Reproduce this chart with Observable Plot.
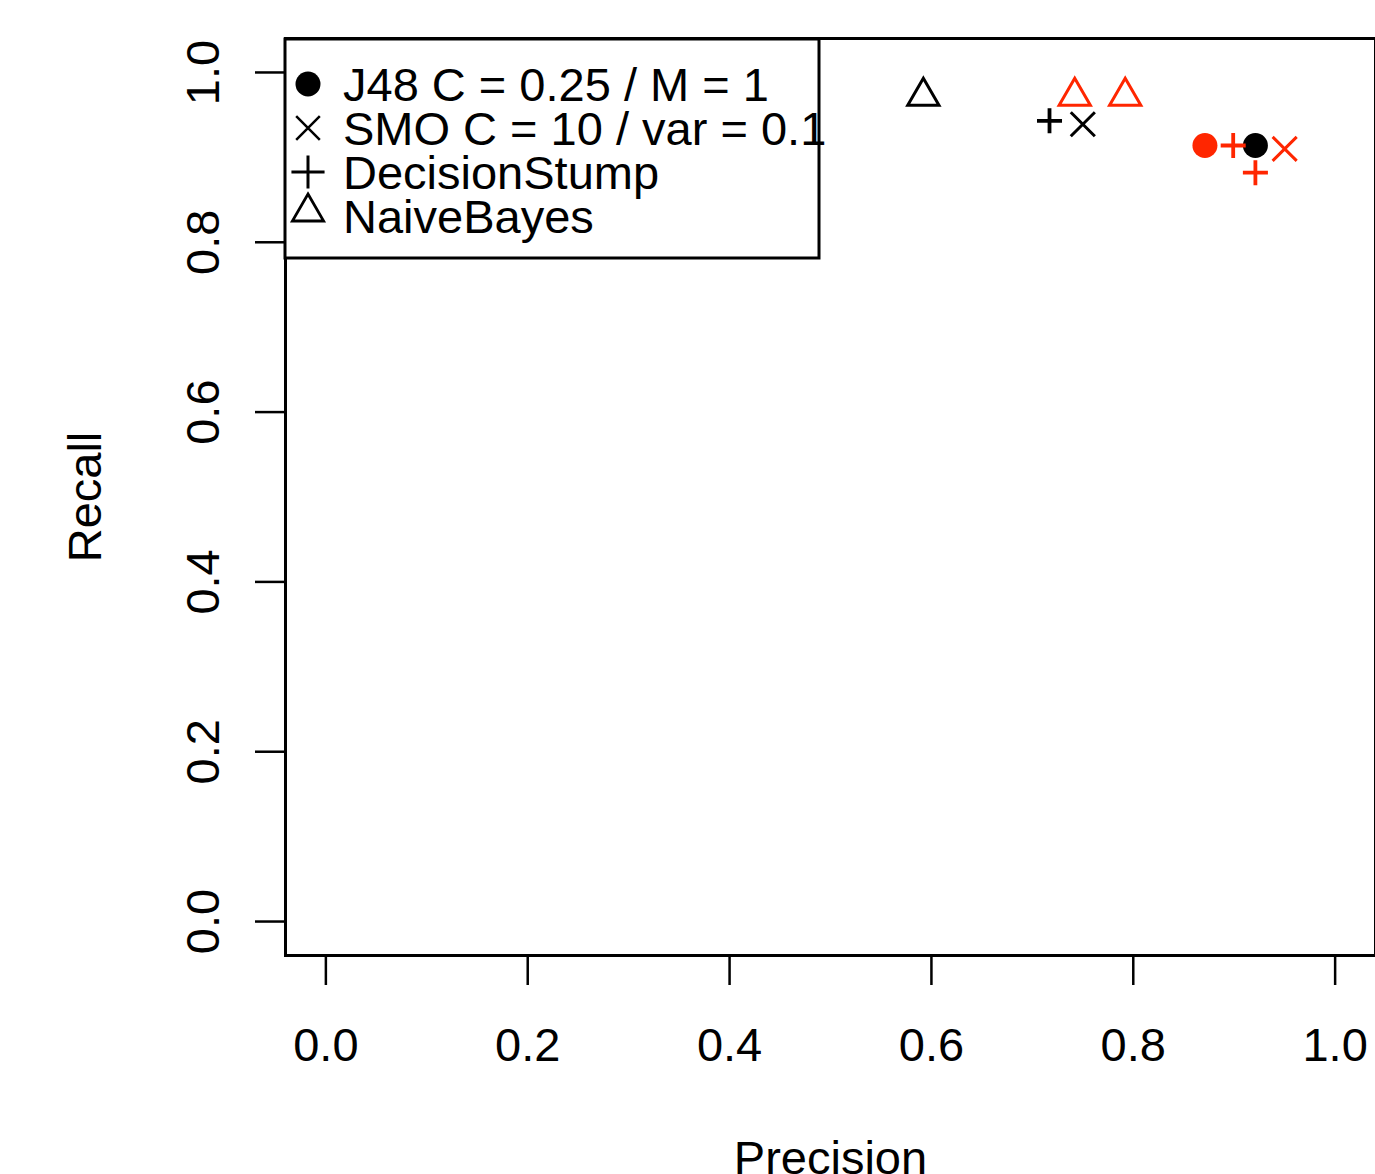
<!DOCTYPE html>
<html>
<head>
<meta charset="utf-8">
<script src="https://cdn.jsdelivr.net/npm/d3@7"></script>
<script src="https://cdn.jsdelivr.net/npm/@observablehq/plot@0.6"></script>
<style>
  html, body { margin: 0; padding: 0; background: #fff; }
  #chart { width: 1375px; height: 1174px; overflow: hidden; }
</style>
</head>
<body>
<div id="chart"></div>
<script>
// ---- data ----
const classifiers = ["J48", "J48", "SMO", "SMO", "DecisionStump", "DecisionStump", "DecisionStump", "NaiveBayes", "NaiveBayes", "NaiveBayes"];
const groups      = ["set 1", "set 2", "set 1", "set 2", "set 1", "set 2", "set 2", "set 1", "set 2", "set 2"];
const precision   = [0.921, 0.871, 0.750, 0.950, 0.717, 0.899, 0.921, 0.592, 0.742, 0.792];
const recall      = [0.914, 0.914, 0.939, 0.910, 0.943, 0.914, 0.882, 0.972, 0.972, 0.972];

const legendLabels = ["J48 C = 0.25 / M = 1", "SMO C = 10 / var = 0.1", "DecisionStump", "NaiveBayes"];
const legendKeys   = ["J48", "SMO", "DecisionStump", "NaiveBayes"];
const xTicks = [0, 0.2, 0.4, 0.6, 0.8, 1.0];
const yTicks = [0, 0.2, 0.4, 0.6, 0.8, 1.0];

const groupDomain = ["set 1", "set 2"];
const groupColors = ["#000000", "#ff2600"];

// symbol styles (layout, not data)
const symbolStyle = {
  J48:           {symbol: "circle",   r: 12.5, filled: true,  sw: 0,   legR: 12.5, legSw: 0},
  SMO:           {symbol: "times",    r: 11,   filled: false, sw: 3,   legR: 10.8, legSw: 2.5},
  DecisionStump: {symbol: "plus",     r: 8.1,  filled: false, sw: 3.8, legR: 10.7, legSw: 3},
  NaiveBayes:    {symbol: "triangle", r: 11.6, filled: false, sw: 3,   legR: 11.6, legSw: 2.8}
};

const data = classifiers.map((c, i) => ({classifier: c, group: groups[i], precision: precision[i], recall: recall[i]}));

const FONT = "'Liberation Sans', Arial, Helvetica, sans-serif";
const fmt = d3.format(".1f");

const pointMarks = legendKeys.map(k => {
  const s = symbolStyle[k];
  const sub = data.filter(d => d.classifier === k);
  return s.filled
    ? Plot.dot(sub, {x: "precision", y: "recall", symbol: s.symbol, r: s.r, fill: "group", stroke: "none"})
    : Plot.dot(sub, {x: "precision", y: "recall", symbol: s.symbol, r: s.r, stroke: "group", fill: "none", strokeWidth: s.sw});
});

const svg = Plot.plot({
  width: 1375,
  height: 1174,
  marginLeft: 285,
  marginRight: 0,
  marginTop: 38,
  marginBottom: 219,
  style: {fontFamily: FONT, fontSize: "47px", background: "#fff", color: "#000", overflow: "visible"},
  x: {domain: [-0.04, 1.04]},
  y: {domain: [-0.04, 1.04]},
  color: {type: "ordinal", domain: groupDomain, range: groupColors},
  marks: [
    Plot.axisX({ticks: xTicks, tickSize: 30, tickPadding: 42, tickFormat: fmt, strokeWidth: 2.5, label: null, fontSize: 47}),
    Plot.axisY({ticks: yTicks, tickSize: 30, tickFormat: () => "", strokeWidth: 2.5, label: null}),
    Plot.text(yTicks, {y: d => d, text: d => fmt(d), frameAnchor: "left", rotate: -90, dx: -67, textAnchor: "middle", lineAnchor: "bottom", fontSize: 47}),
    Plot.text(["Precision"], {text: d => d, frameAnchor: "bottom", dy: 185, lineAnchor: "top", fontSize: 47}),
    Plot.text(["Recall"], {text: d => d, frameAnchor: "left", dx: -185, rotate: -90, textAnchor: "middle", lineAnchor: "bottom", fontSize: 47}),
    ...pointMarks,
    Plot.frame({stroke: "#000", strokeWidth: 3})
  ]
});

// ---- legend (top-left inside plot) ----
const L = d3.select(svg).append("g").attr("class", "legend").attr("text-anchor", "start");
const legLeft = 285, legTop = 39;
L.append("rect")
  .attr("x", legLeft).attr("y", legTop)
  .attr("width", 534).attr("height", 219)
  .attr("fill", "#fff").attr("stroke", "#000").attr("stroke-width", 3);

const symMap = {circle: d3.symbolCircle, times: d3.symbolTimes, plus: d3.symbolPlus, triangle: d3.symbolTriangle};
legendKeys.forEach((k, i) => {
  const s = symbolStyle[k];
  const cy = 84 + i * 44 - (k === "NaiveBayes" ? 4 : 0);
  const path = d3.symbol(symMap[s.symbol], s.legR * s.legR * Math.PI)();
  L.append("path")
    .attr("d", path)
    .attr("transform", `translate(308,${cy})`)
    .attr("fill", s.filled ? "#000" : "none")
    .attr("stroke", s.filled ? "none" : "#000")
    .attr("stroke-width", s.legSw);
  L.append("text")
    .attr("x", 343).attr("y", 101 + i * 44)
    .attr("text-anchor", "start")
    .attr("font-family", FONT).attr("font-size", 47)
    .attr("fill", "#000")
    .text(legendLabels[i]);
});

document.getElementById("chart").appendChild(svg);
</script>
</body>
</html>
